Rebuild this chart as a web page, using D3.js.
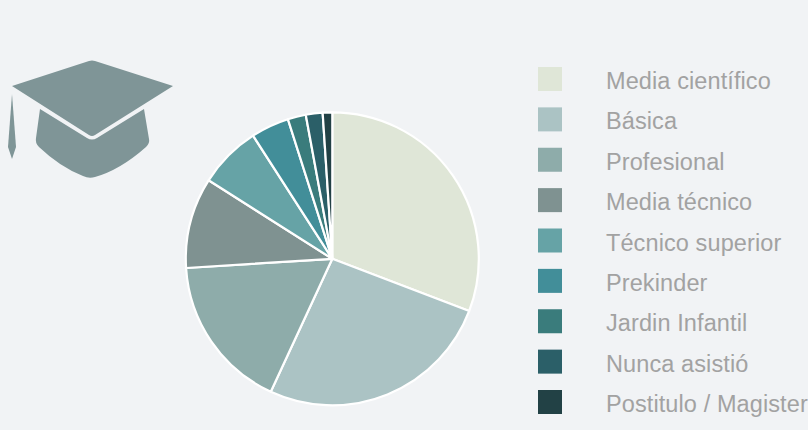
<!DOCTYPE html>
<html><head><meta charset="utf-8">
<script src="https://cdn.jsdelivr.net/npm/d3@7"></script>
<style>html,body{margin:0;padding:0;background:#f1f3f5;overflow:hidden}svg{display:block}</style>
</head><body><svg id="c" width="808" height="430"></svg>
<script>
const categories=["Media científico","Básica","Profesional","Media técnico","Técnico superior","Prekinder","Jardin Infantil","Nunca asistió","Postitulo / Magister"];
const values=[30.8,26.1,17.1,10.0,6.9,4.2,2.0,1.85,1.05];
const colors=["#dfe6d7","#abc3c4","#8eacaa","#7f9291","#66a3a6","#428e99","#3a7c7c","#2b5f68","#224145"];
const svg=d3.select("#c");
const color=d3.scaleOrdinal(categories,colors);
const pie=d3.pie().sort(null).value((d,i)=>values[i]);
const arc=d3.arc().innerRadius(0).outerRadius(146.5);
svg.append("g").attr("transform","translate(332.3,258.8)")
 .selectAll("path").data(pie(categories)).join("path")
 .attr("d",arc).attr("fill",d=>color(d.data)).attr("stroke","#fff").attr("stroke-width",2.2).attr("stroke-linejoin","round");
const y=d3.scalePoint(categories,[79,402]);
const lg=svg.append("g").selectAll("g").data(categories).join("g").attr("transform",d=>`translate(0,${y(d)})`);
lg.append("rect").attr("x",538).attr("y",-12).attr("width",24).attr("height",24).attr("fill",d=>color(d));
lg.append("text").attr("x",606).attr("y",10).text(d=>d)
 .attr("font-family","Liberation Sans, Arial, sans-serif").attr("font-size",23.5).attr("letter-spacing",0.1).attr("fill","#a2a2a2");
const cap=svg.append("g").attr("fill","#7f9597");
cap.append("path").attr("d","M12,86 L89,61 Q92,60 95,61 L173,86 L95,135 Q92,137 89,135 Z");
cap.append("path").attr("d","M40,109 L87,138 Q92,141 97,138 L144,109 L149,139 Q150,143 146,147 Q120,170 95,177 Q89,179 83,176 Q60,167 39,147 Q35,143 36,138 Z");
cap.append("path").attr("d","M12,94 L16,147 L12,159 L8,147 Z");
</script></body></html>
